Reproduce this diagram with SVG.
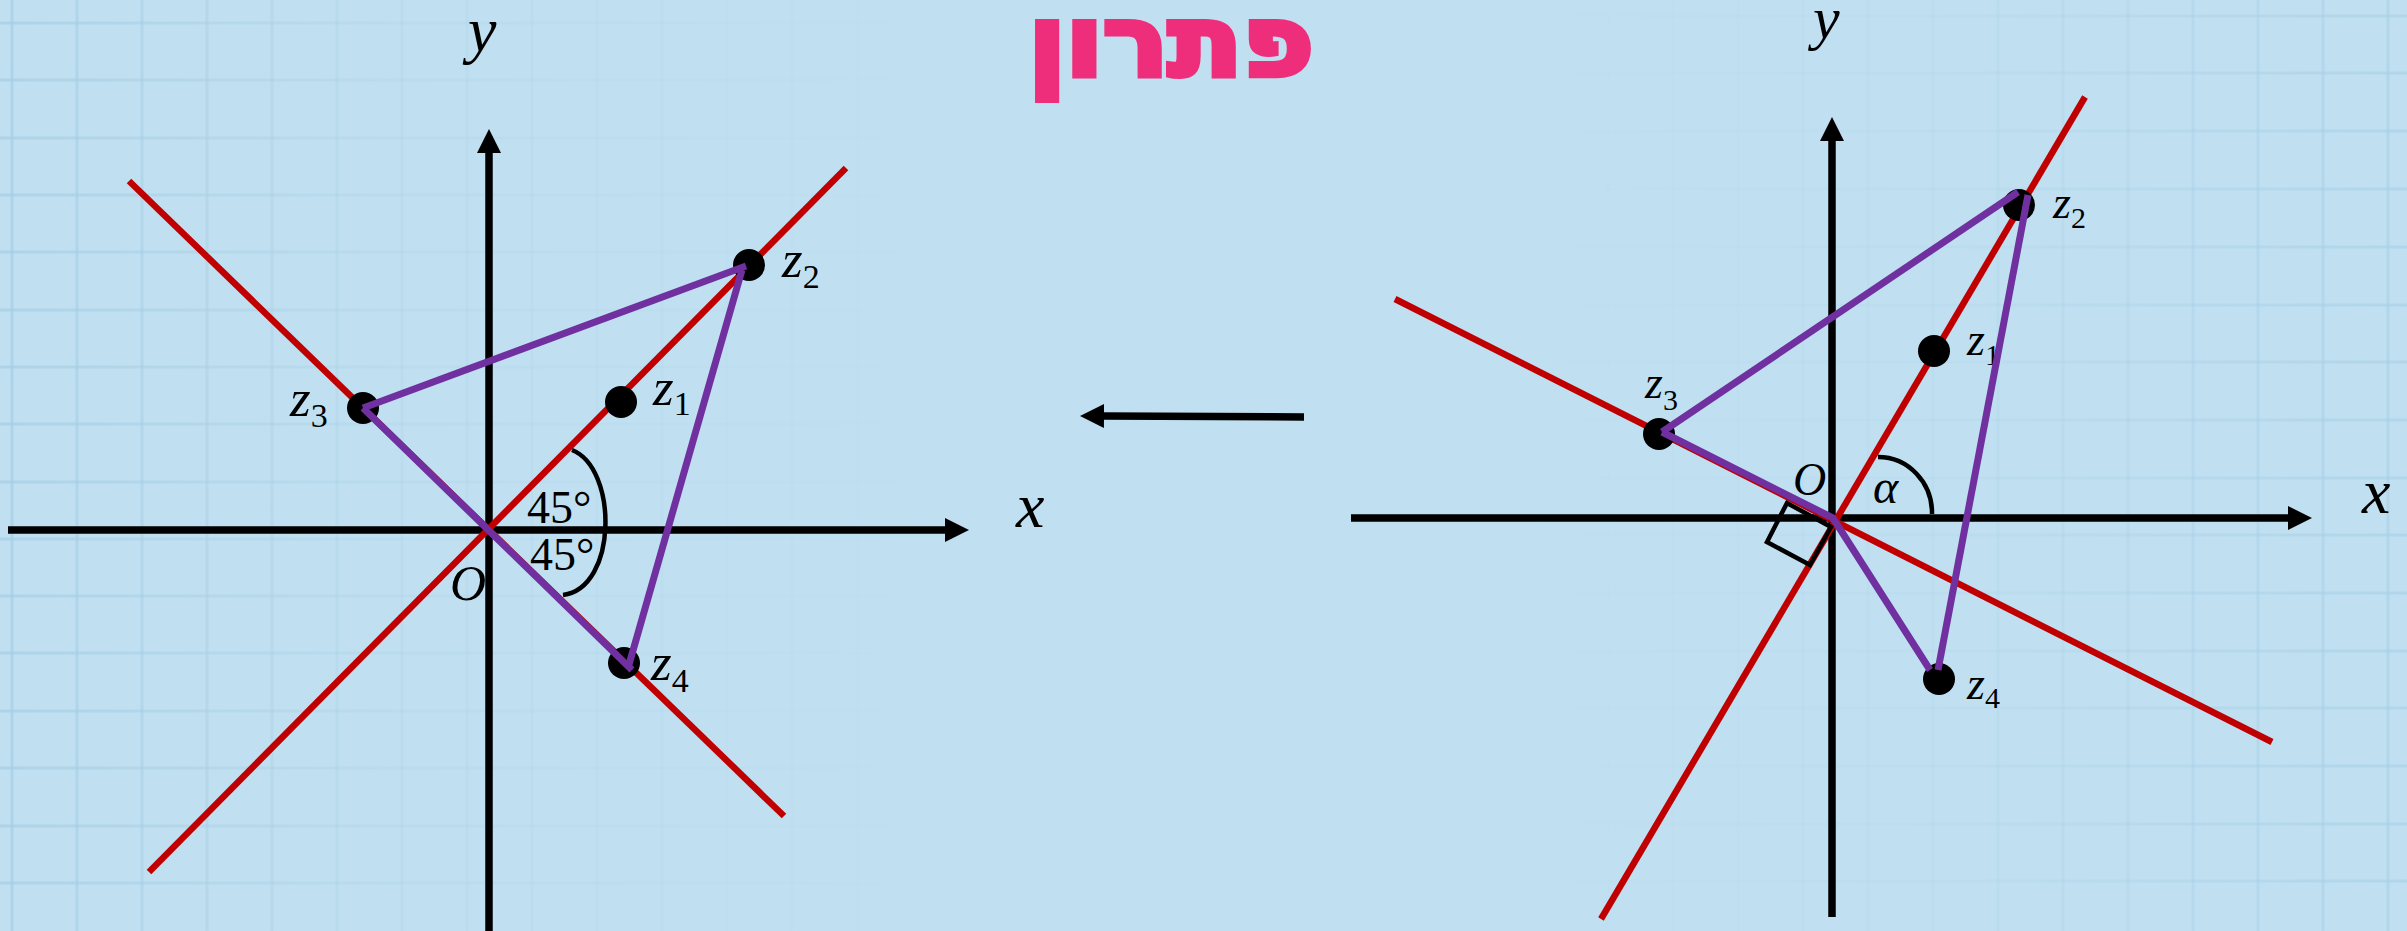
<svg xmlns="http://www.w3.org/2000/svg" width="2407" height="931" viewBox="0 0 2407 931">
  <defs>
    <linearGradient id="gl" gradientUnits="userSpaceOnUse" x1="0" y1="0" x2="1000" y2="0">
      <stop offset="0" stop-color="#a8cee4" stop-opacity="0.75"/>
      <stop offset="0.4" stop-color="#a8cee4" stop-opacity="0.25"/>
      <stop offset="1" stop-color="#a8cee4" stop-opacity="0"/>
    </linearGradient>
    <linearGradient id="gr" gradientUnits="userSpaceOnUse" x1="2407" y1="0" x2="1450" y2="0">
      <stop offset="0" stop-color="#a8cee4" stop-opacity="0.6"/>
      <stop offset="0.45" stop-color="#a8cee4" stop-opacity="0.2"/>
      <stop offset="1" stop-color="#a8cee4" stop-opacity="0"/>
    </linearGradient>
    <marker id="ah" markerUnits="userSpaceOnUse" markerWidth="26" markerHeight="26" refX="1" refY="12" orient="auto">
      <path d="M0,0 L24,12 L0,24 Z" fill="#000"/>
    </marker>
    <style>
      .axis{stroke:#000;stroke-width:7.5;fill:none;marker-end:url(#ah)}
      .red{stroke:#c00000;stroke-width:6.5;fill:none}
      .pur{stroke:#7030a0;stroke-width:7;fill:none;stroke-linecap:butt}
      .dot{fill:#000}
      .arc{stroke:#000;stroke-width:4.5;fill:none}
      .m{font-family:"Liberation Serif","DejaVu Serif",serif;font-style:italic;fill:#000}
      .lbl{font-size:46px}
      .sub{font-size:30px;font-style:normal}
      .lblL{font-size:53px}
      .subL{font-size:34px;font-style:normal}
      .ax{font-size:64px}
      .deg{font-family:"Liberation Serif","DejaVu Serif",serif;font-size:46px;fill:#000}
      .gl{stroke:url(#gl);stroke-width:3}
      .gr{stroke:url(#gr);stroke-width:3}
    </style>
  </defs>

  <rect x="0" y="0" width="2407" height="931" fill="#c0e0f2"/>

  <!-- background grid -->
  <g id="grid-left" class="gl">
    <path d="M12,0V931 M77,0V931 M142,0V931 M207,0V931 M272,0V931 M337,0V931 M402,0V931 M467,0V931 M532,0V931 M597,0V931 M662,0V931 M727,0V931 M792,0V931 M857,0V931 M922,0V931"/>
    <path d="M0,23H1000 M0,80H1000 M0,138H1000 M0,195H1000 M0,252H1000 M0,310H1000 M0,367H1000 M0,424H1000 M0,482H1000 M0,539H1000 M0,596H1000 M0,653H1000 M0,711H1000 M0,768H1000 M0,826H1000 M0,883H1000"/>
  </g>
  <g id="grid-right" class="gr">
    <path d="M1478,0V931 M1543,0V931 M1608,0V931 M1673,0V931 M1738,0V931 M1803,0V931 M1868,0V931 M1933,0V931 M1998,0V931 M2063,0V931 M2128,0V931 M2193,0V931 M2258,0V931 M2323,0V931 M2388,0V931"/>
    <path d="M1450,16H2407 M1450,73H2407 M1450,131H2407 M1450,189H2407 M1450,247H2407 M1450,305H2407 M1450,362H2407 M1450,420H2407 M1450,478H2407 M1450,535H2407 M1450,593H2407 M1450,651H2407 M1450,708H2407 M1450,766H2407 M1450,824H2407 M1450,881H2407"/>
  </g>

  <!-- title -->
  <text id="title" x="1171" y="76" text-anchor="middle" direction="rtl" font-family="'DejaVu Sans','Liberation Sans',sans-serif" font-weight="bold" font-size="98" fill="#ee2e7b" stroke="#ee2e7b" stroke-width="6" stroke-linejoin="miter" textLength="285" lengthAdjust="spacingAndGlyphs">פתרון</text>

  <!-- ===== LEFT DIAGRAM ===== -->
  <g id="left-diagram">
    <g id="left-axes">
      <line class="axis" x1="8" y1="530" x2="946" y2="530"/>
      <line class="axis" x1="489" y1="931" x2="489" y2="152"/>
      <text class="m ax" x="1016" y="527">x</text>
      <text class="m ax" x="468" y="51">y</text>
      <text class="m" font-size="50" x="450" y="600">O</text>
    </g>
    <g id="left-lines">
      <line class="red" x1="149" y1="872" x2="846" y2="168"/>
      <line class="red" x1="129" y1="181" x2="784" y2="816"/>
    </g>
    <g id="left-angle">
      <path class="arc" d="M572,450 C618,468 618,588 563,595"/>
      <text class="deg" x="527" y="523">45°</text>
      <text class="deg" x="530" y="570">45°</text>
    </g>
    <g id="L-z1"><circle class="dot" cx="621" cy="402" r="16"/><text class="m lblL" x="653" y="405">z<tspan class="subL" dy="10">1</tspan></text></g>
    <g id="L-z2"><circle class="dot" cx="749" cy="265" r="16"/><text class="m lblL" x="782" y="277">z<tspan class="subL" dy="11">2</tspan></text></g>
    <g id="L-z3"><circle class="dot" cx="363" cy="408" r="16"/><text class="m lblL" x="290" y="416">z<tspan class="subL" dy="11">3</tspan></text></g>
    <g id="L-z4"><circle class="dot" cx="624" cy="663" r="16"/><text class="m lblL" x="651" y="680">z<tspan class="subL" dy="12">4</tspan></text></g>
    <g id="left-connectors">
      <line class="pur" x1="363" y1="408" x2="746" y2="266"/>
      <line class="pur" x1="742" y1="270" x2="628" y2="668"/>
      <line class="pur" x1="363" y1="408" x2="632" y2="670"/>
    </g>
  </g>

  <!-- middle arrow -->
  <g id="middle-arrow">
    <line class="axis" stroke-width="8" x1="1304" y1="417" x2="1103" y2="416"/>
  </g>

  <!-- ===== RIGHT DIAGRAM ===== -->
  <g id="right-diagram">
    <g id="right-axes">
      <line class="axis" x1="1351" y1="518" x2="2289" y2="518"/>
      <line class="axis" x1="1832" y1="917" x2="1832" y2="140"/>
      <text class="m ax" x="2362" y="513">x</text>
      <text class="m" font-size="60" x="1813" y="38">y</text>
      <text class="m" font-size="46" x="1793" y="495">O</text>
    </g>
    <g id="right-lines">
      <line class="red" x1="1601" y1="919" x2="2085" y2="97"/>
      <line class="red" x1="1395" y1="299" x2="2272" y2="742"/>
    </g>
    <g id="right-angle">
      <path class="arc" d="M1878,457 A54,56 0 0 1 1932,514"/>
      <text class="m" font-size="48" x="1873" y="503">α</text>
      <polygon class="arc" points="1787,503 1767,542 1810,565 1831,527"/>
    </g>
    <g id="R-z1"><circle class="dot" cx="1934" cy="351" r="16"/><text class="m lbl" x="1967" y="355">z<tspan class="sub" dy="10">1</tspan></text></g>
    <g id="R-z2"><circle class="dot" cx="2019" cy="205" r="16"/><text class="m lbl" x="2053" y="218">z<tspan class="sub" dy="10">2</tspan></text></g>
    <g id="R-z3"><circle class="dot" cx="1659" cy="434" r="16"/><text class="m lbl" x="1645" y="398">z<tspan class="sub" dy="12">3</tspan></text></g>
    <g id="R-z4"><circle class="dot" cx="1939" cy="679" r="16"/><text class="m lbl" x="1967" y="699">z<tspan class="sub" dy="9">4</tspan></text></g>
    <g id="right-connectors">
      <line class="pur" x1="1662" y1="432" x2="2018" y2="192"/>
      <line class="pur" x1="2028" y1="195" x2="1938" y2="670"/>
      <polyline class="pur" points="1662,432 1833,518 1930,670"/>
    </g>
  </g>
</svg>
